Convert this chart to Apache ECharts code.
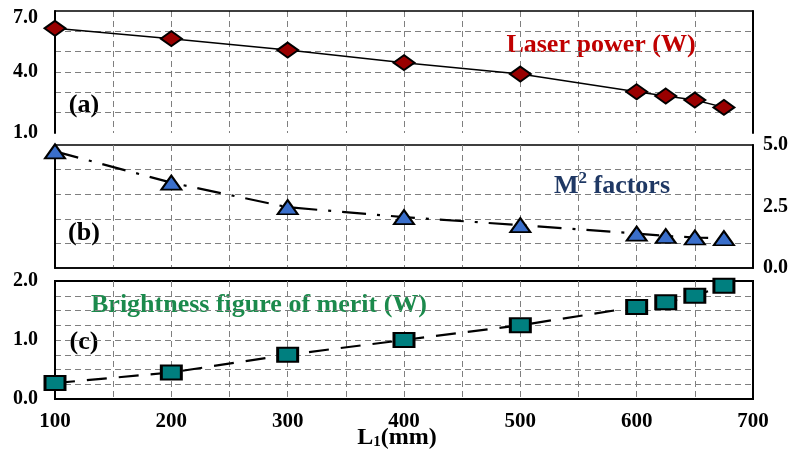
<!DOCTYPE html>
<html>
<head>
<meta charset="utf-8">
<script src="https://cdn.jsdelivr.net/npm/echarts@6/dist/echarts.min.js"></script>
<style>html,body{margin:0;padding:0;background:#fff;}#c{width:791px;height:468px;}</style>
</head>
<body>
<div id="c"></div>
<script>
const L1 = [100, 200, 300, 400, 500, 600, 625, 650, 675];
const laserPower = [6.15, 5.64, 5.08, 4.46, 3.90, 3.03, 2.82, 2.62, 2.26];
const m2Factors = [4.74, 3.47, 2.47, 2.07, 1.74, 1.40, 1.30, 1.24, 1.21];
const brightness = [0.27, 0.45, 0.75, 1.00, 1.25, 1.56, 1.64, 1.75, 1.92];
const xTickLabels = [100, 200, 300, 400, 500, 600, 700];
const powerTickLabels = [1, 4, 7];
const m2TickLabels = [0, 2.5, 5];
const brightTickLabels = [0, 1, 2];

const FONT = "'Liberation Serif','Times New Roman',serif";
const grid_line = {show: true, lineStyle: {color: '#7f7f7f', type: [6, 4], width: 1}, showMinLine: false, showMaxLine: false};
const has = (list, v) => list.some(t => Math.abs(t - v) < 1e-6);
const axisLab = {fontFamily: FONT, fontWeight: 'bold', fontSize: 20, color: '#000'};

function pairs(ys) { return L1.map((x, i) => [x, ys[i]]); }

const option = {
  animation: false,
  backgroundColor: '#fff',
  grid: [
    {left: 55, top: 11, width: 698, height: 122, show: false},
    {left: 55, top: 145, width: 698, height: 123, show: true, borderColor: '#000', borderWidth: 1.5},
    {left: 55, top: 281, width: 698, height: 118, show: true, borderColor: '#000', borderWidth: 2}
  ],
  xAxis: [
    {gridIndex: 0, type: 'value', min: 100, max: 700, interval: 50, axisLine: {show: false}, axisTick: {show: false}, axisLabel: {show: false}, splitLine: grid_line},
    {gridIndex: 0, type: 'value', position: 'top', min: 100, max: 700, axisLine: {show: true, onZero: false, lineStyle: {color: '#000', width: 1.5}}, axisTick: {show: false}, axisLabel: {show: false}, splitLine: {show: false}},
    {gridIndex: 1, type: 'value', min: 100, max: 700, interval: 50, axisLine: {show: true, onZero: false, lineStyle: {color: '#000', width: 1.5}}, axisTick: {show: false}, axisLabel: {show: false}, splitLine: grid_line},
    {gridIndex: 2, type: 'value', min: 100, max: 700, interval: 50, axisLine: {show: true, onZero: false, lineStyle: {color: '#000', width: 2}}, axisTick: {show: false},
      axisLabel: Object.assign({}, axisLab, {fontSize: 21, margin: 12, formatter: (v) => xTickLabels.includes(v) ? String(v) : ''}), splitLine: grid_line}
  ],
  yAxis: [
    {gridIndex: 0, type: 'value', min: 1, max: 7, interval: 1, axisLine: {show: true, onZero: false, lineStyle: {color: '#000', width: 2}}, axisTick: {show: false},
      axisLabel: Object.assign({}, axisLab, {margin: 17,
        formatter: (v) => has(powerTickLabels, v) ? (v === 7 ? '{t|' + v.toFixed(1) + '}' : v.toFixed(1)) : '',
        rich: {t: {fontFamily: FONT, fontWeight: 'bold', fontSize: 20, color: '#000', padding: [14, 0, 0, 0]}}}),
      splitLine: grid_line},
    {gridIndex: 0, type: 'value', position: 'right', min: 1, max: 7, axisLine: {show: true, onZero: false, lineStyle: {color: '#000', width: 2}}, axisTick: {show: false}, axisLabel: {show: false}, splitLine: {show: false}},
    {gridIndex: 1, type: 'value', min: 0, max: 5, interval: 1, axisLine: {show: true, onZero: false, lineStyle: {color: '#000', width: 2}}, axisTick: {show: false}, axisLabel: {show: false}, splitLine: grid_line},
    {gridIndex: 1, type: 'value', position: 'right', min: 0, max: 5, interval: 2.5, axisLine: {show: true, onZero: false, lineStyle: {color: '#000', width: 2}}, axisTick: {show: false},
      axisLabel: Object.assign({}, axisLab, {margin: 10, formatter: (v) => has(m2TickLabels, v) ? v.toFixed(1) : ''}), splitLine: {show: false}},
    {gridIndex: 2, type: 'value', min: 0, max: 2, interval: 0.25, axisLine: {show: true, onZero: false, lineStyle: {color: '#000', width: 2}}, axisTick: {show: false},
      axisLabel: Object.assign({}, axisLab, {margin: 17, formatter: (v) => has(brightTickLabels, v) ? v.toFixed(1) : ''}), splitLine: grid_line}
  ],
  series: [
    {type: 'line', xAxisIndex: 0, yAxisIndex: 0, data: pairs(laserPower), clip: false,
      symbol: 'diamond', symbolSize: [21, 15],
      itemStyle: {color: '#990000', borderColor: '#000', borderWidth: 2},
      lineStyle: {color: '#000', width: 1.5}},
    {type: 'line', xAxisIndex: 2, yAxisIndex: 2, data: pairs(m2Factors), clip: false,
      symbol: 'triangle', symbolSize: [20, 14],
      itemStyle: {color: '#3a6fcb', borderColor: '#000', borderWidth: 2},
      lineStyle: {color: '#000', width: 2.2, type: [24, 11, 3, 11]}},
    {type: 'line', xAxisIndex: 3, yAxisIndex: 4, data: pairs(brightness), clip: false,
      symbol: 'rect', symbolSize: [20, 14],
      itemStyle: {color: '#007f7f', borderColor: '#000', borderWidth: 2.5},
      lineStyle: {color: '#000', width: 2.2, type: [20, 12]}}
  ],
  graphic: [
    {type: 'text', x: 601, y: 45, style: {text: 'Laser power (W)', font: "bold 26px " + FONT, fill: '#c00000', align: 'center', verticalAlign: 'middle'}},
    {type: 'text', x: 612, y: 185, style: {text: '{m|M}{s|2}{m| factors}', align: 'center', verticalAlign: 'middle',
      rich: {m: {font: "bold 26px " + FONT, fill: '#1f3864', verticalAlign: 'bottom'}, s: {font: "bold 17px " + FONT, fill: '#1f3864', verticalAlign: 'top', padding: [0, 0, 12, 0]}}}},
    {type: 'text', x: 259, y: 305, style: {text: 'Brightness figure of merit (W)', font: "bold 26px " + FONT, fill: '#1b8a4c', align: 'center', verticalAlign: 'middle'}},
    {type: 'text', x: 84, y: 105, style: {text: '(a)', font: "bold 26px " + FONT, fill: '#000', align: 'center', verticalAlign: 'middle'}},
    {type: 'text', x: 84, y: 233, style: {text: '(b)', font: "bold 26px " + FONT, fill: '#000', align: 'center', verticalAlign: 'middle'}},
    {type: 'text', x: 84, y: 342, style: {text: '(c)', font: "bold 26px " + FONT, fill: '#000', align: 'center', verticalAlign: 'middle'}},
    {type: 'text', x: 397, y: 438, style: {text: '{m|L}{s|1}{m|(mm)}', align: 'center', verticalAlign: 'middle',
      rich: {m: {font: "bold 24px " + FONT, fill: '#000'}, s: {font: "bold 15px " + FONT, fill: '#000', padding: [9, 0, 0, 0]}}}}
  ]
};
const chart = echarts.init(document.getElementById('c'), null, {renderer: 'canvas'});
chart.setOption(option);
</script>
</body>
</html>
